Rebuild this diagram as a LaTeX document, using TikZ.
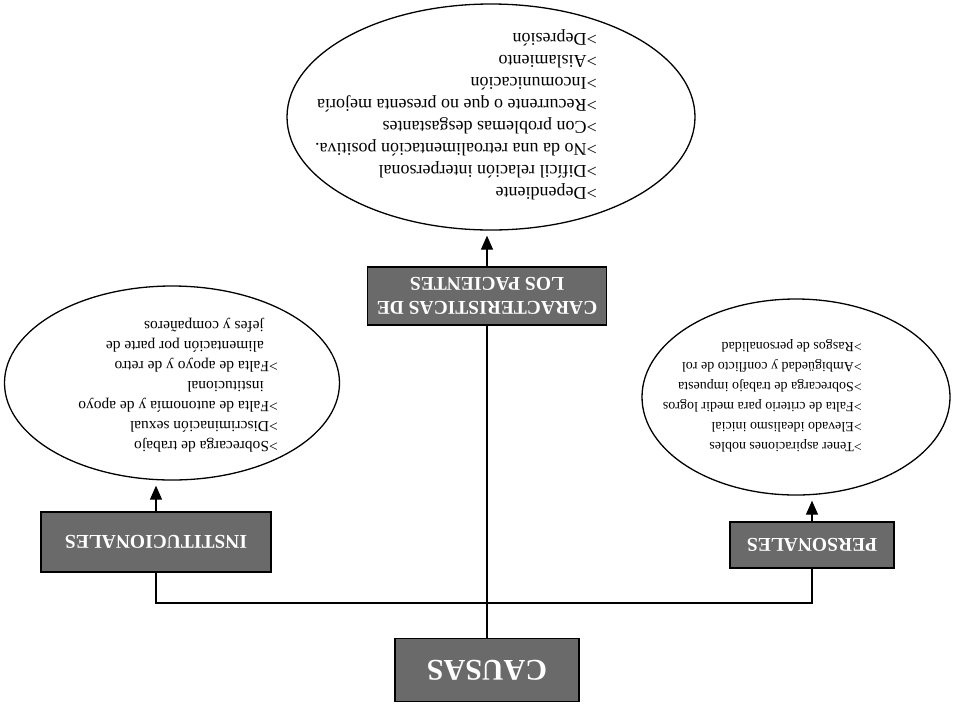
\documentclass[tikz,border=0pt]{standalone}
\usepackage{fontspec}
\setmainfont{Liberation Serif}
\usetikzlibrary{shapes.geometric,arrows.meta,positioning}
\definecolor{boxgray}{RGB}{106,106,106}

\begin{document}
\begin{tikzpicture}[x=1pt,y=-1pt,
   every node/.style={rotate=180},
   causa/.style={draw=black,line width=1.4pt,fill=boxgray,text=white,
     font=\bfseries\fontsize{19.5}{24}\selectfont,align=center,inner sep=0pt},
   burbuja/.style={draw=black,line width=1.3pt,ellipse,inner sep=0pt},
   lista/.style={align=left,inner sep=0pt,anchor=north west},
   linea/.style={line width=1.3pt},
   flecha/.style={line width=1.3pt,-{Triangle[width=12pt,length=14pt]},shorten >=5pt}]
  \useasboundingbox (0,0) rectangle (960,705);
  % recuadros
  \node[causa,minimum width=184pt,minimum height=63pt,
    font=\bfseries\fontsize{30}{34}\selectfont] (causas) at (487,670) {CAUSAS};
  \node[causa,minimum width=239pt,minimum height=58pt] (pac) at (487,296)
    {CARACTERISTICAS DE\\LOS PACIENTES};
  \node[causa,minimum width=164pt,minimum height=46pt] (per) at (812,545) {PERSONALES};
  \node[causa,minimum width=230pt,minimum height=60pt] (ins) at (156,542) {INSTITUCIONALES};
  % elipses
  \node[burbuja,minimum width=408pt,minimum height=226pt] (pacEll) at (491,117) {};
  \node[burbuja,minimum width=308pt,minimum height=196pt] (perEll) at (796,397) {};
  \node[burbuja,minimum width=335pt,minimum height=194pt] (insEll) at (172,383) {};
  \node[lista,font=\fontsize{18}{22}\selectfont] (pacTxt) at (597,200)
    {>Dependiente\\>Difícil relación interpersonal\\>No da una retroalimentación positiva.\\
     >Con problemas desgastantes\\>Recurrente o que no presenta mejoría\\
     >Incomunicación\\>Aislamiento\\>Depresión};
  \node[lista,font=\fontsize{14}{20}\selectfont] (perTxt) at (862,452)
    {>Tener aspiraciones nobles\\>Elevado idealismo inicial\\>Falta de criterio para medir logros\\
     >Sobrecarga de trabajo impuesta\\>Ambigüedad y conflicto de rol\\>Rasgos de personalidad};
  \node[lista,font=\fontsize{15.5}{20}\selectfont] (insTxt) at (278,452)
    {>Sobrecarga de trabajo\\>Discriminación sexual\\>Falta de autonomía y de apoyo\\
     \hspace{0.9em}institucional\\>Falta de apoyo y de retro\\
     \hspace{0.9em}alimentación por parte de\\\hspace{0.9em}jefes y compañeros};
  % conectores
  \coordinate (barra) at (487,603);
  \draw[linea] (causas.south) -- (pac.north);
  \draw[linea] (ins.north) -- (ins.north |- barra) -- (per.north |- barra) -- (per.north);
  \draw[flecha] (pac.south) -- (pac.south |- pacEll.north);
  \draw[flecha] (per.south) -- (per.south |- perEll.north);
  \draw[flecha] (ins.south) -- (ins.south |- insEll.north);
\end{tikzpicture}
\end{document}
